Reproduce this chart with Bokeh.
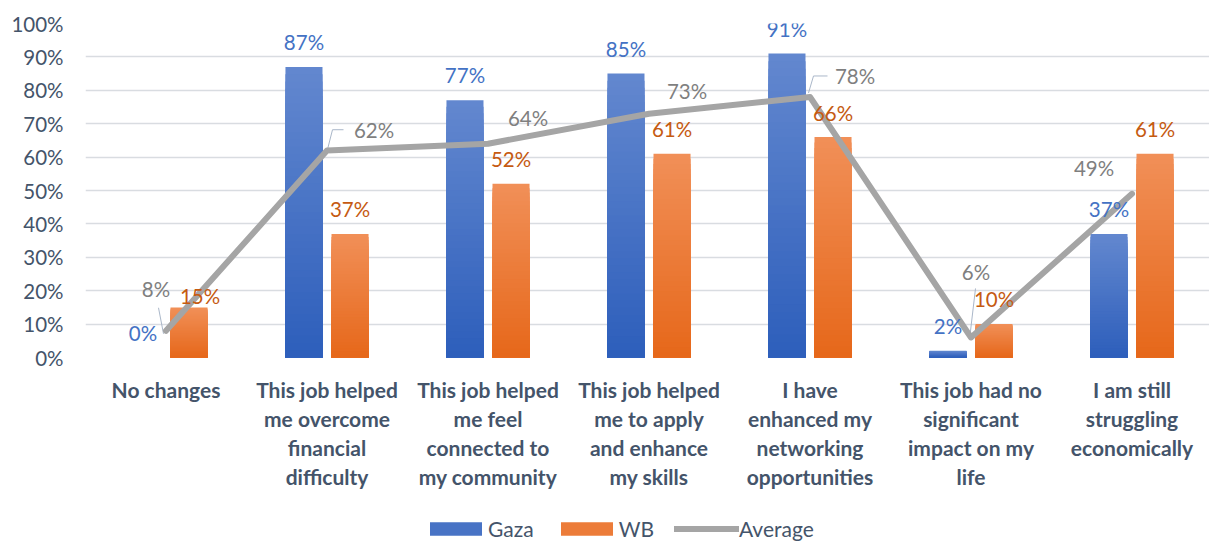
import numpy as np
from bokeh.plotting import figure
from bokeh.layouts import column
from bokeh.models import (ColumnDataSource, Range1d, FixedTicker, NumeralTickFormatter,
                          Legend, LegendItem)
from bokeh.core.properties import value
from bokeh.embed import file_html
from bokeh.resources import INLINE

# ---------------- data ----------------
categories = [
    "No changes",
    "This job helped\nme overcome\nfinancial\ndifficulty",
    "This job helped\nme feel\nconnected to\nmy community",
    "This job helped\nme to apply\nand enhance\nmy skills",
    "I have\nenhanced my\nnetworking\nopportunities",
    "This job had no\nsignificant\nimpact on my\nlife",
    "I am still\nstruggling\neconomically",
]
gaza = [0.00, 0.87, 0.77, 0.85, 0.91, 0.02, 0.37]
wb = [0.15, 0.37, 0.52, 0.61, 0.66, 0.10, 0.61]
average = [0.08, 0.62, 0.64, 0.73, 0.78, 0.06, 0.49]
series_names = ["Gaza", "WB", "Average"]
y_ticks = [0.0, 0.1, 0.2, 0.3, 0.4, 0.5, 0.6, 0.7, 0.8, 0.9, 1.0]

# ---------------- style ----------------
FONT = "Lato"
TXT = "#44546A"
GAZA_TOP, GAZA_BOT = "#6388CF", "#2D5EBB"
WB_TOP, WB_BOT = "#F18F58", "#E6681A"
AVG_C = "#A5A5A5"
BAR_W = 0.23
BAR_OFF = 0.143
CAT_PX = 161.0
W, H = 1209, 513          # main chart
LEG_H = 30                # legend strip below the chart
LEFT, TOP, BOTTOM = 85, 23, 357
PX_X = 1 / CAT_PX                 # data units per screen px (x)
PX_Y = 1 / float(BOTTOM - TOP)    # data units per screen px (y)

# label offsets in screen px (dx, dy; dy positive = down)
gaza_off = [(0, -25)] * 7
wb_off = [(11, -11), (0, -25), (0, -25), (0, -25), (0, -24), (0, -25), (0, -25)]
avg_off = [(-10, -42), (47, -20), (40, -26), (38, -23), (45, -21), (5, -65), (-38, -26)]
# leader lines (screen px relative to the average point)
leaders = {
    0: [(-2.5, 3), (-7.5, -23)],
    1: [(0.5, -1), (5.5, -20.7), (16.5, -20.7)],
    4: [(-1.5, -4), (3.5, -21), (17.5, -21)],
    5: [(-1.5, 2), (4.5, -49)],
}

x = np.arange(len(categories))


def hex2rgb(h):
    h = h.lstrip("#")
    return [int(h[i:i + 2], 16) for i in (0, 2, 4)]


def mix(c1, c2, t):
    a, b = hex2rgb(c1), hex2rgb(c2)
    return "#%02x%02x%02x" % tuple(int(round(a[j] + (b[j] - a[j]) * t)) for j in range(3))


def gradient_source(xs, vals, top, bot, k=40):
    xx, tt, cc = [], [], []
    for i in range(k):
        col = mix(top, bot, (i + 0.5) / k)
        for xv, v in zip(xs, vals):
            xx.append(xv)
            tt.append(v * (1 - i / k))
            cc.append(col)
    return ColumnDataSource(dict(x=xx, top=tt, color=cc)), k


p = figure(width=W, height=H, output_backend="svg", toolbar_location=None,
           x_range=Range1d(-0.5, -0.5 + (W - LEFT) / CAT_PX), y_range=Range1d(0, 1.0),
           min_border_left=LEFT, min_border_right=0, min_border_top=TOP,
           min_border_bottom=H - BOTTOM,
           outline_line_color=None, background_fill_color="white")

# grid
p.xgrid.grid_line_color = None
p.ygrid.ticker = FixedTicker(ticks=y_ticks)
p.ygrid.grid_line_color = "#D9DCE1"
p.ygrid.grid_line_width = 1.3

# axes
p.yaxis.ticker = FixedTicker(ticks=y_ticks)
p.yaxis.formatter = NumeralTickFormatter(format="0%")
p.yaxis.axis_line_color = None
p.yaxis.major_tick_line_color = None
p.yaxis.minor_tick_line_color = None
p.yaxis.major_tick_out = 0
p.yaxis.major_label_standoff = 22
p.yaxis.major_label_text_font = FONT
p.yaxis.major_label_text_font_size = "20.5px"
p.yaxis.major_label_text_color = TXT

p.xaxis.ticker = FixedTicker(ticks=list(x))
p.xaxis.major_label_overrides = {int(i): c for i, c in zip(x, categories)}
p.xaxis.axis_line_color = None
p.xaxis.major_tick_line_color = None
p.xaxis.minor_tick_line_color = None
p.xaxis.major_tick_out = 0
p.xaxis.major_label_standoff = 19
p.xaxis.major_label_text_font = FONT
p.xaxis.major_label_text_font_size = "21px"
p.xaxis.major_label_text_font_style = "bold"
p.xaxis.major_label_text_color = TXT
p.xaxis.major_label_text_line_height = 1.17

# bars with gradient
gsrc, k = gradient_source(x - BAR_OFF, gaza, GAZA_TOP, GAZA_BOT)
p.vbar(x="x", top="top", bottom=0, width=BAR_W, source=gsrc,
       fill_color="color", line_color=None)
wsrc, _ = gradient_source(x + BAR_OFF, wb, WB_TOP, WB_BOT)
p.vbar(x="x", top="top", bottom=0, width=BAR_W, source=wsrc,
       fill_color="color", line_color=None)

# leader lines
lx, ly = [], []
for i, pts in leaders.items():
    lx.append([x[i] + dx * PX_X for dx, dy in pts])
    ly.append([average[i] - dy * PX_Y for dx, dy in pts])
p.multi_line(xs=lx, ys=ly, line_color="#AAB7C9", line_width=1)

# average line
p.line(x, average, line_color=AVG_C, line_width=6, line_join="round", line_cap="round")


def add_labels(xs, vals, offs, color):
    src = ColumnDataSource(dict(
        x=list(xs), y=list(vals), t=["%d%%" % round(v * 100) for v in vals],
        dx=[o[0] for o in offs], dy=[o[1] for o in offs]))
    p.text(x="x", y="y", text="t", x_offset="dx", y_offset="dy", source=src,
           text_align="center", text_baseline="middle", text_color=color,
           text_font=value(FONT), text_font_size="20.5px")


add_labels(x - BAR_OFF, gaza, gaza_off, "#4472C4")
add_labels(x + BAR_OFF, wb, wb_off, "#C55A11")
add_labels(x, average, avg_off, "#7F7F7F")

# ---------------- legend strip ----------------
lf = figure(width=W, height=LEG_H, output_backend="svg", toolbar_location=None,
            x_range=Range1d(0, 1), y_range=Range1d(0, 1),
            x_axis_location=None, y_axis_location=None,
            min_border_left=0, min_border_right=0, min_border_top=0, min_border_bottom=0,
            outline_line_color=None, background_fill_color="white")
lf.grid.visible = False
# proxy glyphs placed outside the visible range, used only for the legend swatches
proxy = ColumnDataSource(dict(x=[5, 6], top=[0, 0]))
lg_gaza = lf.vbar(x="x", top="top", width=0.1, source=proxy,
                  fill_color=mix(GAZA_TOP, GAZA_BOT, 0.5), line_color=None)
lg_wb = lf.vbar(x="x", top="top", width=0.1, source=proxy,
                fill_color=mix(WB_TOP, WB_BOT, 0.5), line_color=None)
lg_avg = lf.line(x="x", y="top", source=proxy, line_color=AVG_C, line_width=6,
                 line_cap="round")

legend = Legend(items=[
    LegendItem(label=series_names[0], renderers=[lg_gaza]),
    LegendItem(label=series_names[1], renderers=[lg_wb]),
    LegendItem(label=series_names[2], renderers=[lg_avg]),
], orientation="horizontal", location=(338, 2), padding=0, margin=0, spacing=20,
    glyph_width=65, glyph_height=17, label_height=17, label_standoff=0,
    label_text_font=FONT, label_text_font_size="21px", label_text_color=TXT,
    border_line_color=None, background_fill_alpha=0)
lf.add_layout(legend, "center")

layout = column(p, lf, spacing=0)
open("out.html", "w").write(file_html(layout, INLINE))
